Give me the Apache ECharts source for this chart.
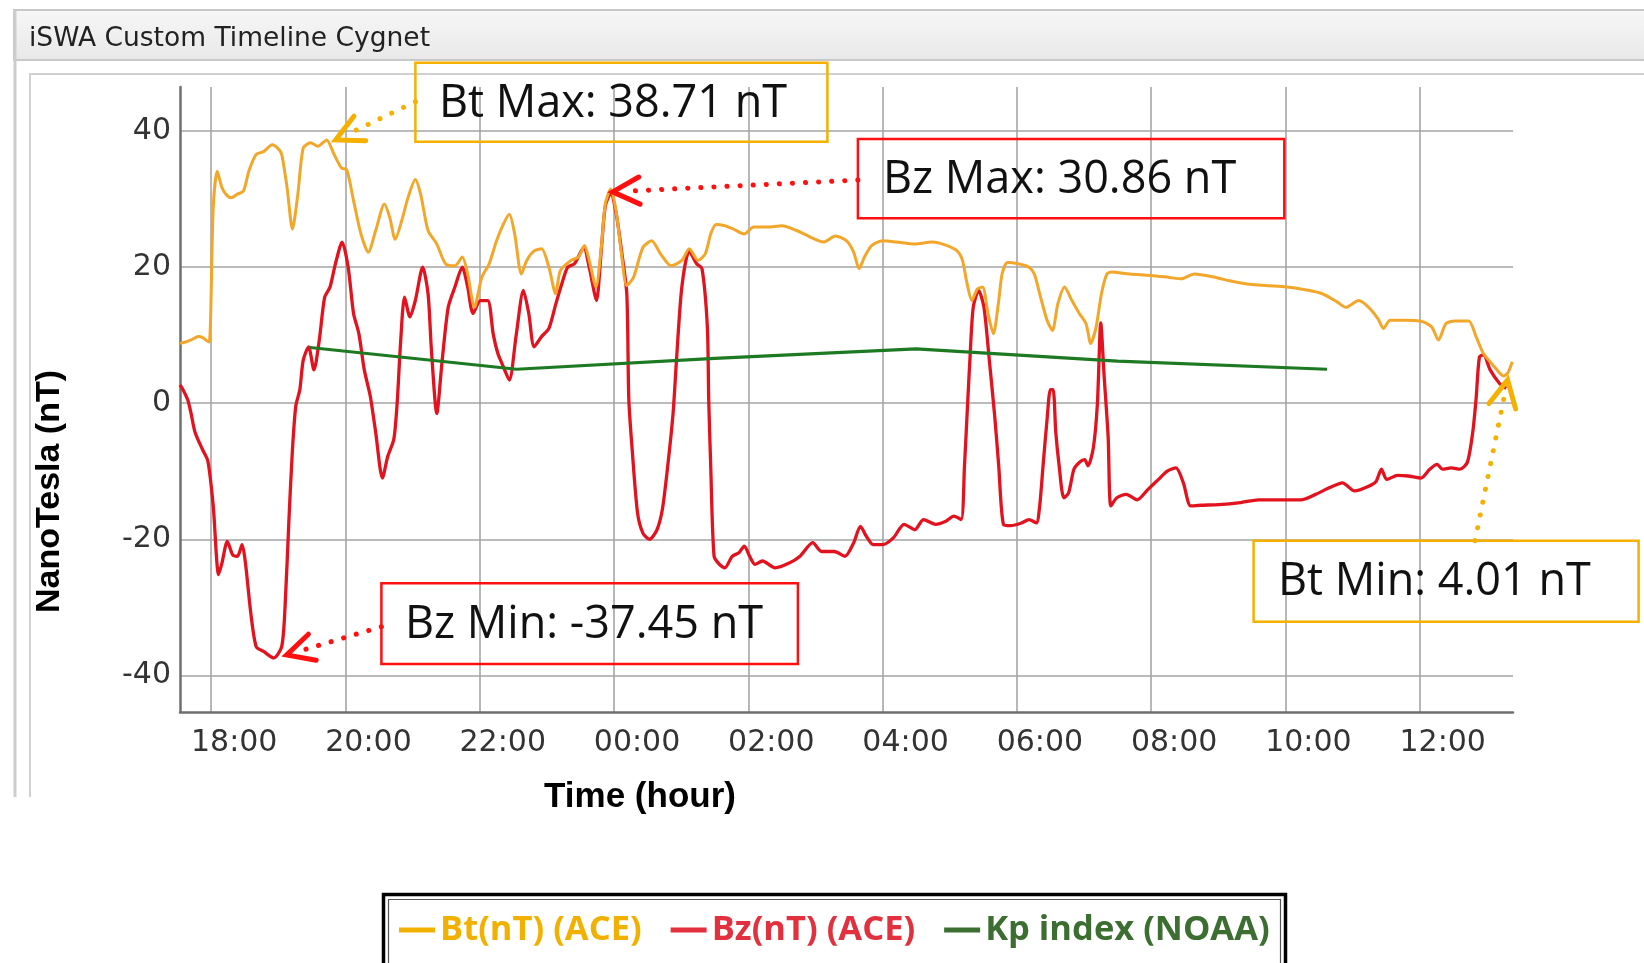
<!DOCTYPE html>
<html>
<head>
<meta charset="utf-8">
<script src="https://cdn.jsdelivr.net/npm/echarts@6/dist/echarts.min.js"></script>
<style>
  html, body { margin: 0; padding: 0; background: #ffffff; }
  #chart { width: 1644px; height: 963px; }
</style>
</head>
<body>
<div id="chart"></div>
<script>
// Solar-wind magnetic field from ACE and the NOAA Kp index.
// Time is in hours counted from midnight of the first day (24 = 00:00 of the next day).

const windowTitle = 'iSWA Custom Timeline Cygnet';
const yAxisTitle = 'NanoTesla (nT)';
const xAxisTitle = 'Time (hour)';
const seriesNames = ['Bt(nT) (ACE)', 'Bz(nT) (ACE)', 'Kp index (NOAA)'];

const timeExtent = [17.535, 37.39];
const valueExtent = [-45.4, 46.5];

// Bt, total field magnitude [hour, nT]
const btData = [
  [17.535, 8.8], [17.62, 9.0], [17.70, 9.3], [17.81, 9.8], [17.88, 9.6], [17.92, 9.3], [17.97, 9.0],
  [18.03, 28.8], [18.09, 34.1], [18.16, 31.7], [18.23, 30.6], [18.30, 30.2], [18.38, 30.7], [18.48, 31.2],
  [18.56, 34.1], [18.67, 36.6], [18.78, 37.0], [18.91, 38.0], [19.00, 37.4], [19.05, 36.6], [19.13, 31.7],
  [19.21, 25.6], [19.29, 30.7], [19.37, 37.5], [19.48, 38.3], [19.59, 37.8], [19.65, 38.2], [19.72, 38.71],
  [19.83, 36.6], [19.94, 34.6], [20.02, 34.3], [20.12, 29.8], [20.23, 24.9], [20.34, 22.2], [20.45, 25.4],
  [20.58, 29.3], [20.66, 27.3], [20.74, 24.1], [20.85, 27.3], [20.93, 30.2], [21.04, 32.9], [21.12, 30.7],
  [21.23, 25.4], [21.36, 23.4], [21.49, 20.5], [21.63, 20.2], [21.74, 21.5], [21.82, 19.0], [21.92, 14.1],
  [22.03, 18.5], [22.14, 20.5], [22.25, 23.9], [22.35, 26.3], [22.44, 27.8], [22.52, 24.9], [22.62, 19.0],
  [22.70, 21.0], [22.81, 22.4], [22.92, 22.7], [23.03, 20.0], [23.13, 16.1], [23.20, 19.5], [23.36, 21.0],
  [23.47, 21.5], [23.56, 23.2], [23.63, 21.0], [23.73, 17.1], [23.81, 22.9], [23.87, 29.3], [23.95, 31.5],
  [24.03, 28.3], [24.11, 22.0], [24.19, 17.3], [24.29, 18.5], [24.43, 22.9], [24.56, 23.9], [24.69, 22.0],
  [24.85, 20.2], [25.01, 21.0], [25.12, 22.7], [25.25, 21.0], [25.36, 22.0], [25.44, 24.9], [25.52, 26.3],
  [25.65, 26.1], [25.78, 25.6], [25.94, 24.9], [26.08, 25.9], [26.29, 25.9], [26.50, 26.1], [26.72, 25.4],
  [26.93, 24.4], [27.12, 23.7], [27.30, 24.6], [27.46, 23.9], [27.57, 22.2], [27.65, 19.8], [27.73, 21.5],
  [27.84, 23.2], [28.00, 23.9], [28.21, 23.7], [28.48, 23.4], [28.74, 23.7], [28.95, 23.2], [29.11, 22.4],
  [29.19, 21.0], [29.25, 18.0], [29.33, 15.1], [29.41, 16.8], [29.49, 17.1], [29.57, 13.2], [29.65, 10.2],
  [29.73, 15.1], [29.78, 19.0], [29.86, 20.7], [30.02, 20.5], [30.18, 20.0], [30.26, 19.0], [30.34, 16.1],
  [30.45, 12.2], [30.53, 10.7], [30.61, 14.6], [30.71, 17.1], [30.82, 15.1], [30.93, 13.2], [31.03, 11.7],
  [31.10, 8.8], [31.18, 11.2], [31.26, 16.1], [31.34, 19.0], [31.41, 19.3], [31.68, 19.0], [32.00, 18.8],
  [32.27, 18.5], [32.45, 18.3], [32.64, 19.0], [32.96, 18.5], [33.17, 18.0], [33.38, 17.6], [33.70, 17.3],
  [34.02, 17.1], [34.34, 16.6], [34.55, 16.1], [34.77, 14.9], [34.90, 14.1], [35.09, 15.1], [35.24, 14.1],
  [35.38, 12.4], [35.46, 11.0], [35.56, 12.2], [35.78, 12.2], [36.04, 12.0], [36.18, 11.2], [36.28, 9.3],
  [36.39, 11.7], [36.52, 12.1], [36.73, 12.1], [36.84, 9.8], [36.95, 7.3], [37.11, 5.4], [37.25, 4.01],
  [37.31, 4.4], [37.38, 6.1]
];

// Bz, north-south component [hour, nT]
const bzData = [
  [17.535, 2.7], [17.58, 2.0], [17.65, 0.5], [17.70, -1.5], [17.76, -4.3], [17.87, -6.8], [17.95, -8.5],
  [18.03, -15.1], [18.11, -25.2], [18.16, -23.5], [18.24, -20.3], [18.32, -22.3], [18.39, -22.5], [18.46, -20.8],
  [18.51, -23.5], [18.59, -30.9], [18.67, -35.8], [18.78, -36.5], [18.93, -37.45], [19.05, -35.8], [19.10, -29.9],
  [19.16, -16.6], [19.21, -6.8], [19.26, -0.4], [19.32, 2.0], [19.37, 6.3], [19.45, 8.3], [19.53, 4.9],
  [19.61, 9.3], [19.69, 15.6], [19.77, 17.1], [19.85, 20.5], [19.95, 23.7], [20.04, 20.0], [20.12, 13.2],
  [20.20, 10.2], [20.28, 4.9], [20.37, 1.0], [20.45, -4.3], [20.55, -11.0], [20.63, -7.8], [20.72, -5.3],
  [20.77, 0.1], [20.82, 8.8], [20.88, 15.6], [20.96, 12.7], [21.04, 15.1], [21.15, 20.0], [21.23, 16.1],
  [21.28, 7.8], [21.36, -1.5], [21.44, 6.3], [21.53, 14.1], [21.63, 17.1], [21.74, 20.0], [21.82, 17.1],
  [21.90, 13.2], [22.01, 15.1], [22.12, 15.1], [22.20, 10.2], [22.27, 7.3], [22.35, 5.4], [22.44, 3.4],
  [22.54, 9.8], [22.65, 16.6], [22.73, 13.2], [22.81, 8.3], [22.92, 9.8], [23.03, 11.0], [23.13, 14.5],
  [23.22, 17.5], [23.31, 20.0], [23.41, 20.5], [23.55, 22.9], [23.63, 20.0], [23.71, 16.1], [23.74, 15.1],
  [23.81, 22.5], [23.87, 29.0], [23.95, 30.86], [24.03, 28.0], [24.11, 22.5], [24.19, 16.1], [24.22, 0.6],
  [24.27, -6.8], [24.35, -16.1], [24.43, -19.1], [24.53, -20.0], [24.64, -18.6], [24.72, -15.6], [24.80, -9.2],
  [24.88, -1.4], [24.93, 6.3], [25.01, 17.1], [25.12, 22.4], [25.23, 20.5], [25.31, 19.8], [25.39, 11.2],
  [25.41, 0.6], [25.44, -9.2], [25.49, -22.5], [25.57, -23.7], [25.65, -24.2], [25.76, -22.5], [25.86, -22.0],
  [25.94, -21.0], [26.02, -22.5], [26.10, -23.7], [26.21, -23.2], [26.40, -24.2], [26.61, -23.5], [26.77, -22.5],
  [26.96, -20.5], [27.09, -21.8], [27.28, -21.8], [27.44, -22.5], [27.57, -20.5], [27.67, -18.1], [27.76, -19.6],
  [27.86, -20.8], [28.00, -20.8], [28.16, -19.8], [28.32, -17.8], [28.48, -18.6], [28.61, -17.1], [28.79, -17.8],
  [28.95, -17.3], [29.06, -16.6], [29.17, -17.1], [29.22, -9.2], [29.27, 0.6], [29.30, 6.3], [29.35, 14.1],
  [29.43, 16.6], [29.51, 14.1], [29.59, 6.3], [29.67, -1.9], [29.73, -9.2], [29.80, -17.8], [29.91, -18.0],
  [30.07, -17.6], [30.18, -17.1], [30.29, -17.6], [30.34, -15.1], [30.39, -9.2], [30.45, -2.4], [30.50, 2.0],
  [30.54, 2.0], [30.58, -4.3], [30.63, -9.2], [30.70, -13.9], [30.77, -13.2], [30.85, -9.7], [30.93, -8.7],
  [31.01, -8.3], [31.06, -9.2], [31.14, -6.5], [31.20, 0.0], [31.25, 11.8], [31.30, 4.0], [31.36, -5.0],
  [31.40, -15.1], [31.49, -13.9], [31.63, -13.4], [31.79, -14.2], [31.95, -12.7], [32.11, -11.2], [32.24, -10.0],
  [32.37, -9.5], [32.48, -11.7], [32.59, -15.1], [32.74, -15.0], [33.01, -14.9], [33.33, -14.6], [33.60, -14.2],
  [33.91, -14.2], [34.23, -14.2], [34.45, -13.4], [34.66, -12.4], [34.85, -11.7], [35.03, -12.9], [35.24, -12.2],
  [35.35, -11.5], [35.43, -9.7], [35.51, -11.2], [35.67, -10.6], [35.83, -10.7], [36.02, -11.0], [36.15, -9.7],
  [36.26, -9.0], [36.34, -9.7], [36.47, -9.5], [36.60, -9.7], [36.71, -8.7], [36.79, -4.3], [36.84, 0.6],
  [36.89, 6.8], [36.95, 7.1], [37.05, 4.9], [37.19, 2.9], [37.29, 2.2]
];

// Kp index, three-hourly [hour, value]
const kpData = [
  [19.47, 8.2], [22.55, 5.0], [25.50, 6.6], [28.50, 8.0], [31.50, 6.2], [34.62, 5.0]
];

function extremeOf(data, pickMax) {
  return data.reduce((best, p) => (pickMax ? p[1] > best[1] : p[1] < best[1]) ? p : best, data[0]);
}
const btMax = extremeOf(btData, true);
const btMin = extremeOf(btData, false);
const bzMax = extremeOf(bzData, true);
const bzMin = extremeOf(bzData, false);

const pad2 = n => (n < 10 ? '0' : '') + n;

const chart = echarts.init(document.getElementById('chart'), null, { renderer: 'canvas' });

const option = {
  animation: false,
  backgroundColor: '#ffffff',
  grid: { left: 180, right: 131, top: 87, bottom: 251, containLabel: false, outerBoundsMode: 'none' },
  legend: {
    left: 399, top: 910, padding: 0, itemGap: 29,
    itemWidth: 36, itemHeight: 5, icon: 'rect', selectedMode: false,
    textStyle: { fontFamily: 'Open Sans', fontWeight: 'bold', fontSize: 34.5, lineHeight: 40 },
    data: [
      { name: seriesNames[0], itemStyle: { color: '#F2B100' }, textStyle: { color: '#F2B100' } },
      { name: seriesNames[1], itemStyle: { color: '#E2303E' }, textStyle: { color: '#E2303E' } },
      { name: seriesNames[2], itemStyle: { color: '#3B6E30' }, textStyle: { color: '#3B6E30' } }
    ]
  },
  xAxis: {
    type: 'value', min: timeExtent[0], max: timeExtent[1], splitNumber: 10,
    axisLine: { show: true, onZero: false, lineStyle: { color: '#6f6f6f', width: 2.5 } },
    axisTick: { show: false },
    splitLine: { show: true, showMinLine: false, showMaxLine: false, lineStyle: { color: '#a5a5a5', width: 1.6 } },
    axisLabel: {
      showMinLabel: false, showMaxLabel: false,
      color: '#333333', fontFamily: 'DejaVu Sans', fontSize: 30, margin: 16, padding: [0, 0, 0, 46],
      formatter: v => pad2(((Math.round(v) % 24) + 24) % 24) + ':00'
    }
  },
  yAxis: {
    type: 'value', min: valueExtent[0], max: valueExtent[1], splitNumber: 5,
    axisLine: { show: true, onZero: false, lineStyle: { color: '#6f6f6f', width: 2.5 } },
    axisTick: { show: false },
    splitLine: { show: true, showMinLine: false, showMaxLine: false, lineStyle: { color: '#a5a5a5', width: 1.6 } },
    axisLabel: {
      showMinLabel: false, showMaxLabel: false,
      color: '#333333', fontFamily: 'DejaVu Sans', fontSize: 30, margin: 9
    }
  },
  series: [
    {
      name: seriesNames[1], type: 'line', data: bzData, showSymbol: false, symbol: 'none', smooth: 0.25,
      lineStyle: { color: '#E2121E', width: 3.3, join: 'round' }, itemStyle: { color: '#E2121E' },
      emphasis: { disabled: true }, z: 2
    },
    {
      name: seriesNames[0], type: 'line', data: btData, showSymbol: false, symbol: 'none', smooth: 0.25,
      lineStyle: { color: '#F2A62A', width: 3, join: 'round' }, itemStyle: { color: '#F2A62A' },
      emphasis: { disabled: true }, z: 3
    },
    {
      name: seriesNames[2], type: 'line', data: kpData, showSymbol: false, symbol: 'none',
      lineStyle: { color: '#1E7A22', width: 3.2 }, itemStyle: { color: '#1E7A22' },
      emphasis: { disabled: true }, z: 4
    }
  ]
};

chart.setOption(option);

// Call-out boxes pointing at the extreme values of Bt and Bz.
const callouts = [
  { label: 'Bt Max', point: btMax, color: '#F5B000', box: [415.4, 62.7, 412, 79], text: [439, 104], anchor: [415.4, 101.7], tipOffset: [9, 0] },
  { label: 'Bz Max', point: bzMax, color: '#FF0F0F', box: [857.9, 139, 426.4, 79.3], text: [883, 180], anchor: [857.9, 180], tipOffset: [2, -1.5] },
  { label: 'Bz Min', point: bzMin, color: '#FF0F0F', box: [381.4, 583.3, 416.5, 80.7], text: [405, 625], anchor: [381.4, 626.7], tipOffset: [13, -3] },
  { label: 'Bt Min', point: btMin, color: '#F5B000', box: [1253.6, 540.7, 385, 81], text: [1278, 582], anchor: [1475, 540.7], tipOffset: [4, 4] }
];

function rotate(v, a) {
  const c = Math.cos(a), s = Math.sin(a);
  return [v[0] * c - v[1] * s, v[0] * s + v[1] * c];
}

const graphics = [];

// Application window frame around the plot
graphics.push({
  type: 'rect', z: -10, silent: true,
  shape: { x: 14, y: 10, width: 1650, height: 50 },
  style: {
    fill: new echarts.graphic.LinearGradient(0, 0, 0, 1, [
      { offset: 0, color: '#f7f7f7' }, { offset: 1, color: '#e8e8e8' }
    ]),
    stroke: '#c8c8c8', lineWidth: 2
  }
});
graphics.push({
  type: 'line', z: -10, silent: true,
  shape: { x1: 15, y1: 10, x2: 15, y2: 797 },
  style: { stroke: '#cdcdcd', lineWidth: 3 }
});
graphics.push({
  type: 'polyline', z: -10, silent: true,
  shape: { points: [[30, 797], [30, 74], [1644, 74]] },
  style: { stroke: '#d0d0d0', lineWidth: 2, fill: 'none' }
});
graphics.push({
  type: 'text', z: -9, silent: true, x: 29, y: 39,
  style: {
    text: windowTitle, fill: '#222222', font: '26.5px "DejaVu Sans"',
    textAlign: 'left', textVerticalAlign: 'middle', align: 'left', verticalAlign: 'middle'
  }
});

// Axis titles
graphics.push({
  type: 'text', silent: true, x: 50, y: 491.5, rotation: Math.PI / 2,
  style: {
    text: yAxisTitle, fill: '#000000', font: 'bold 34px "Liberation Sans"',
    textAlign: 'center', textVerticalAlign: 'middle', align: 'center', verticalAlign: 'middle'
  }
});
graphics.push({
  type: 'text', silent: true, x: 640, y: 797,
  style: {
    text: xAxisTitle, fill: '#000000', font: 'bold 35px "Liberation Sans"',
    textAlign: 'center', textVerticalAlign: 'middle', align: 'center', verticalAlign: 'middle'
  }
});

// Legend frame (double rule)
graphics.push({
  type: 'rect', silent: true, z: 5,
  shape: { x: 383.5, y: 894.5, width: 902, height: 90 },
  style: { fill: 'none', stroke: '#000000', lineWidth: 3.5 }
});
graphics.push({
  type: 'rect', silent: true, z: 5,
  shape: { x: 388.5, y: 899.5, width: 892, height: 80 },
  style: { fill: 'none', stroke: '#555555', lineWidth: 1.2 }
});

callouts.forEach(c => {
  const p = chart.convertToPixel({ xAxisIndex: 0, yAxisIndex: 0 }, c.point);
  const tip = [p[0] + c.tipOffset[0], p[1] + c.tipOffset[1]];
  const dx = c.anchor[0] - tip[0], dy = c.anchor[1] - tip[1];
  const len = Math.hypot(dx, dy);
  const d = [dx / len, dy / len];
  const armA = rotate(d, 0.47), armB = rotate(d, -0.47);
  const armLen = 30;

  graphics.push({
    type: 'rect', silent: true, z: 100,
    shape: { x: c.box[0], y: c.box[1], width: c.box[2], height: c.box[3] },
    style: { fill: 'none', stroke: c.color, lineWidth: 2.5 }
  });
  graphics.push({
    type: 'text', silent: true, z: 101, x: c.text[0], y: c.text[1],
    style: {
      text: c.label + ': ' + c.point[1].toFixed(2) + ' nT',
      fill: '#111111', font: '45px "Open Sans"',
      textAlign: 'left', textVerticalAlign: 'middle', align: 'left', verticalAlign: 'middle'
    }
  });
  graphics.push({
    type: 'polyline', silent: true, z: 100,
    shape: { points: [c.anchor, [tip[0] + d[0] * 10, tip[1] + d[1] * 10]] },
    style: { fill: 'none', stroke: c.color, lineWidth: 5, lineDash: [0.1, 13], lineCap: 'round' }
  });
  graphics.push({
    type: 'polyline', silent: true, z: 100,
    shape: {
      points: [
        [tip[0] + armA[0] * armLen, tip[1] + armA[1] * armLen],
        tip,
        [tip[0] + armB[0] * armLen, tip[1] + armB[1] * armLen]
      ]
    },
    style: { fill: 'none', stroke: c.color, lineWidth: 5, lineCap: 'round', lineJoin: 'miter' }
  });
});

chart.setOption({ graphic: { elements: graphics } });
</script>
</body>
</html>
